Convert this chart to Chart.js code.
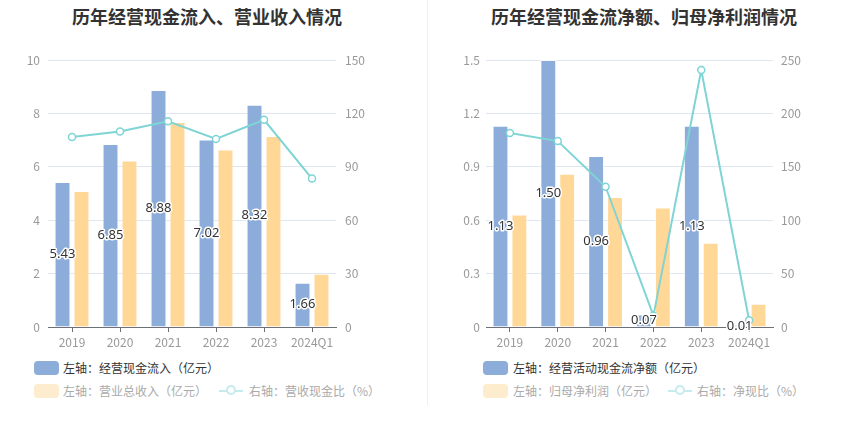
<!DOCTYPE html>
<html>
<head>
<meta charset="utf-8">
<script src="https://cdn.jsdelivr.net/npm/chart.js@4/dist/chart.umd.min.js"></script>
<style>
  body { margin: 0; background: #fff; font-family: "Noto Sans CJK SC", "Noto Sans", sans-serif; }
  #wrap { position: relative; width: 850px; height: 437px; overflow: hidden; }
  .title { position: absolute; top: 3px; font-size: 18px; font-weight: bold; color: #333; white-space: nowrap; transform: translateX(-50%); }
  .box { position: absolute; }
  .divider { position: absolute; left: 427px; top: 0; width: 1px; height: 405px; background: #eee; }
  .lg { position: absolute; font-size: 12px; white-space: nowrap; line-height: 14px; }
  .sw { position: absolute; width: 25px; height: 14px; border-radius: 4px; }
  .ln { position: absolute; width: 24px; height: 2px; }
  .dot { position: absolute; width: 8px; height: 8px; border-radius: 50%; background: #fff; }
</style>
</head>
<body>
<div id="wrap">
  <div class="title" style="left:207px">历年经营现金流入、营业收入情况</div>
  <div class="title" style="left:644px">历年经营现金流净额、归母净利润情况</div>
  <div class="divider"></div>
  <div class="box" style="left:0;top:40px"><canvas id="c1" width="425" height="317"></canvas></div>
  <div class="box" style="left:425px;top:40px"><canvas id="c2" width="425" height="317"></canvas></div>

  <!-- legends -->
  <div class="sw" style="left:34px;top:361px;background:#8cacd9"></div>
  <div class="lg" style="left:63px;top:361px;color:#333">左轴：经营现金流入（亿元）</div>
  <div class="sw" style="left:34px;top:384px;background:#feecce"></div>
  <div class="lg" style="left:63px;top:384px;color:#aaa">左轴：营业总收入（亿元）</div>
  <div class="ln" style="left:219px;top:390px;background:#c4ecee"></div>
  <div class="dot" style="left:226px;top:385px;border:2px solid #c4ecee;width:6px;height:6px"></div>
  <div class="lg" style="left:249px;top:384px;color:#aaa">右轴：营收现金比（%）</div>

  <div class="sw" style="left:483px;top:361px;background:#8cacd9"></div>
  <div class="lg" style="left:513px;top:361px;color:#333">左轴：经营活动现金流净额（亿元）</div>
  <div class="sw" style="left:483px;top:384px;background:#feecce"></div>
  <div class="lg" style="left:513px;top:384px;color:#aaa">左轴：归母净利润（亿元）</div>
  <div class="ln" style="left:668px;top:390px;background:#c4ecee"></div>
  <div class="dot" style="left:675px;top:385px;border:2px solid #c4ecee;width:6px;height:6px"></div>
  <div class="lg" style="left:697px;top:384px;color:#aaa">右轴：净现比（%）</div>
</div>

<script>
// data
const years = ['2019', '2020', '2021', '2022', '2023', '2024Q1'];

const cashInflow = [5.43, 6.85, 8.88, 7.02, 8.32, 1.66];
const revenue = [5.09, 6.24, 7.68, 6.65, 7.15, 1.99];
const cashRatio = [106.7, 109.8, 115.6, 105.6, 116.4, 83.4];

const netCashFlow = [1.13, 1.50, 0.96, 0.07, 1.13, 0.01];
const netProfit = [0.632, 0.861, 0.731, 0.671, 0.473, 0.131];
const netCashRatio = [181.6, 174.1, 131.3, 10.6, 240.6, 6.3];

Chart.defaults.font.family = '"Noto Sans CJK SC", "Noto Sans", sans-serif';
Chart.defaults.font.size = 12;
Chart.defaults.color = '#999';

const BLUE = '#8cacd9';
const ORANGE = '#ffd898';
const TEAL = '#7fd4d6';

// value labels in the middle of the blue bars
const barLabels = {
  id: 'barLabels',
  afterDatasetsDraw(chart) {
    const ctx = chart.ctx;
    const meta = chart.getDatasetMeta(0);
    const vals = chart.data.datasets[0].data;
    ctx.save();
    ctx.font = '13px "Noto Sans", "Noto Sans CJK SC", sans-serif';
    ctx.textAlign = 'center';
    ctx.textBaseline = 'middle';
    ctx.lineJoin = 'round';
    meta.data.forEach((bar, i) => {
      const y = (bar.y + bar.base) / 2;
      const txt = vals[i].toFixed(2);
      ctx.strokeStyle = '#fff';
      ctx.lineWidth = 3;
      ctx.strokeText(txt, bar.x, y);
      ctx.fillStyle = '#333';
      ctx.fillText(txt, bar.x, y);
    });
    ctx.restore();
  }
};

function makeChart(id, bars1, bars2, line, leftMax, leftStep, rightMax, rightStep, leftWidth, leftPad, rightWidth, rightPad, decimals) {
  return new Chart(document.getElementById(id), {
    type: 'bar',
    data: {
      labels: years,
      datasets: [
        { type: 'bar', data: bars1, backgroundColor: BLUE, borderColor: 'rgba(255,255,255,0.7)', borderWidth: 1, yAxisID: 'y', order: 1 },
        { type: 'bar', data: bars2, backgroundColor: ORANGE, borderColor: 'rgba(255,255,255,0.7)', borderWidth: 1, yAxisID: 'y', order: 1 },
        {
          type: 'line', data: line, yAxisID: 'y1', order: 0,
          borderColor: TEAL, borderWidth: 2, tension: 0,
          pointRadius: 3.5, pointBackgroundColor: '#fff', pointBorderColor: TEAL, pointBorderWidth: 1.5
        }
      ]
    },
    options: {
      responsive: false,
      animation: false,
      categoryPercentage: 0.79,
      barPercentage: 0.84,
      layout: { padding: { top: 20, left: 0, right: 0, bottom: 0 } },
      plugins: { legend: { display: false }, tooltip: { enabled: false } },
      scales: {
        x: {
          grid: { display: true, drawOnChartArea: false, offset: false, tickLength: 5, color: '#6e7079' },
          border: { display: true, color: '#6e7079' },
          ticks: { padding: 3, color: '#999', maxRotation: 0, minRotation: 0, autoSkip: false },
          afterFit(s) { s.height = 30; }
        },
        y: {
          position: 'left', min: 0, max: leftMax,
          ticks: { stepSize: leftStep, padding: leftPad, color: '#999',
            callback: v => decimals ? (v === 0 ? '0' : v.toFixed(decimals)) : v },
          grid: { color: '#e0e6f1', drawTicks: false },
          border: { display: false },
          afterFit(s) { s.width = leftWidth; }
        },
        y1: {
          position: 'right', min: 0, max: rightMax,
          ticks: { stepSize: rightStep, padding: rightPad, color: '#999' },
          grid: { display: false, drawTicks: false },
          border: { display: false },
          afterFit(s) { s.width = rightWidth; }
        }
      }
    },
    plugins: [barLabels]
  });
}

makeChart('c1', cashInflow, revenue, cashRatio, 10, 2, 150, 30, 48, 8, 89, 9, 0);
makeChart('c2', netCashFlow, netProfit, netCashRatio, 1.5, 0.3, 250, 50, 61, 6, 77, 8, 1);
</script>
</body>
</html>
